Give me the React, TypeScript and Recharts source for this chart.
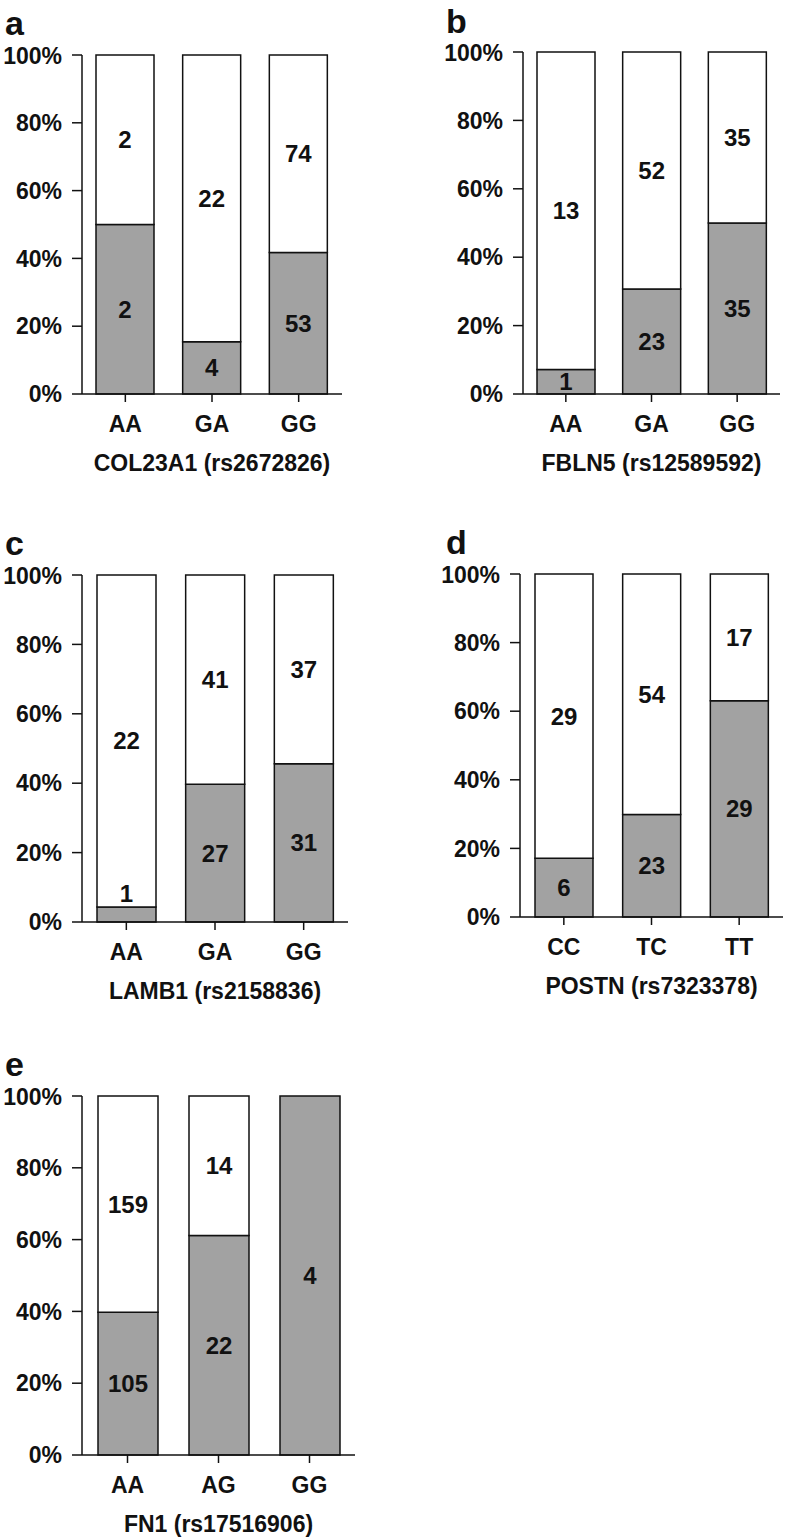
import React from "react";
import { BarChart, Bar, XAxis, YAxis, LabelList } from "recharts";

// counts per genotype: gray = lower segment, white = upper segment
const colCats = ["AA", "GA", "GG"];
const colGray = [2, 4, 53];
const colWhite = [2, 22, 74];

const fblnCats = ["AA", "GA", "GG"];
const fblnGray = [1, 23, 35];
const fblnWhite = [13, 52, 35];

const lambCats = ["AA", "GA", "GG"];
const lambGray = [1, 27, 31];
const lambWhite = [22, 41, 37];

const postnCats = ["CC", "TC", "TT"];
const postnGray = [6, 23, 29];
const postnWhite = [29, 54, 17];

const fnCats = ["AA", "AG", "GG"];
const fnGray = [105, 22, 4];
const fnWhite = [159, 14, 0];

const yTicks = [0, 0.2, 0.4, 0.6, 0.8, 1];

const FONT = '"Liberation Sans", Arial, sans-serif';
const INK = "#111";
const GRAY = "#a2a2a2";

const toRows = (cats: string[], gray: number[], white: number[]) =>
  cats.map((cat, i) => ({ cat, gray: gray[i], white: white[i] }));

const SegLabel = (props: any) => {
  const vb = props.viewBox ?? props;
  const { x, y, width, height } = vb;
  const v = props.value;
  if (!v) return null;
  const top = height < 0 ? y + height : y;
  const h = Math.abs(height);
  const cy = h < 20 ? top - 13 : top + h / 2;
  return (
    <text
      x={x + width / 2}
      y={cy}
      textAnchor="middle"
      dominantBaseline="central"
      fontFamily={FONT}
      fontWeight="bold"
      fontSize={24}
      fill={INK}
    >
      {v}
    </text>
  );
};

interface PanelProps {
  letter: string;
  title: string;
  rows: { cat: string; gray: number; white: number }[];
  left: number;
  top: number;
  right: number;
  bottom: number;
  barSize: number;
}

const AXIS_W = 80;
const PAD_TOP = 12;
const X_AXIS_H = 85;

function Panel({ letter, title, rows, left, top, right, bottom, barSize }: PanelProps) {
  const width = AXIS_W + (right - left) + 4;
  const height = PAD_TOP + (bottom - top) + X_AXIS_H;
  const tickStyle = { fill: INK, fontSize: 23, fontWeight: "bold", fontFamily: FONT };
  return (
    <>
      <div
        style={{
          position: "absolute",
          left: letter === "b" || letter === "d" ? 446 : 5,
          top: Math.max(3, top - 50),
          fontFamily: FONT,
          fontWeight: "bold",
          fontSize: 34,
          lineHeight: "36px",
          color: INK,
        }}
      >
        {letter}
      </div>
      <div style={{ position: "absolute", left: left - AXIS_W, top: top - PAD_TOP }}>
        <BarChart
          width={width}
          height={height}
          data={rows}
          stackOffset="expand"
          margin={{ top: PAD_TOP, right: 4, left: 0, bottom: 0 }}
        >
          <XAxis
            dataKey="cat"
            height={X_AXIS_H}
            tick={tickStyle}
            tickSize={8}
            tickMargin={14}
            axisLine={{ stroke: INK, strokeWidth: 1.5 }}
            tickLine={{ stroke: INK, strokeWidth: 1.5 }}
            label={{
              value: title,
              position: "insideBottom",
              offset: 8,
              fill: INK,
              fontSize: 23,
              fontWeight: "bold",
              fontFamily: FONT,
            }}
          />
          <YAxis
            type="number"
            domain={[0, 1]}
            ticks={yTicks}
            width={AXIS_W}
            tick={tickStyle}
            tickSize={10}
            tickMargin={10}
            tickFormatter={(v: number) => `${Math.round(v * 100)}%`}
            axisLine={{ stroke: INK, strokeWidth: 1.5 }}
            tickLine={{ stroke: INK, strokeWidth: 1.5 }}
          />
          <Bar
            dataKey="gray"
            stackId="s"
            fill={GRAY}
            stroke={INK}
            strokeWidth={1.5}
            barSize={barSize}
            isAnimationActive={false}
          >
            <LabelList dataKey="gray" content={SegLabel} />
          </Bar>
          <Bar
            dataKey="white"
            stackId="s"
            fill="#fff"
            stroke={INK}
            strokeWidth={1.5}
            barSize={barSize}
            isAnimationActive={false}
          >
            <LabelList dataKey="white" content={SegLabel} />
          </Bar>
        </BarChart>
      </div>
    </>
  );
}

export default function App() {
  return (
    <div
      style={{
        position: "absolute",
        left: 0,
        top: 0,
        width: 786,
        height: 1538,
        background: "#fff",
        overflow: "hidden",
      }}
    >
      <Panel letter="a" title="COL23A1 (rs2672826)" rows={toRows(colCats, colGray, colWhite)}
        left={82} top={55} right={342} bottom={394} barSize={58} />
      <Panel letter="b" title="FBLN5 (rs12589592)" rows={toRows(fblnCats, fblnGray, fblnWhite)}
        left={523} top={52} right={780} bottom={394} barSize={58} />
      <Panel letter="c" title="LAMB1 (rs2158836)" rows={toRows(lambCats, lambGray, lambWhite)}
        left={82} top={575} right={348} bottom={922} barSize={59} />
      <Panel letter="d" title="POSTN (rs7323378)" rows={toRows(postnCats, postnGray, postnWhite)}
        left={520} top={574} right={783} bottom={917} barSize={58} />
      <Panel letter="e" title="FN1 (rs17516906)" rows={toRows(fnCats, fnGray, fnWhite)}
        left={82} top={1096} right={355} bottom={1455} barSize={60} />
    </div>
  );
}
